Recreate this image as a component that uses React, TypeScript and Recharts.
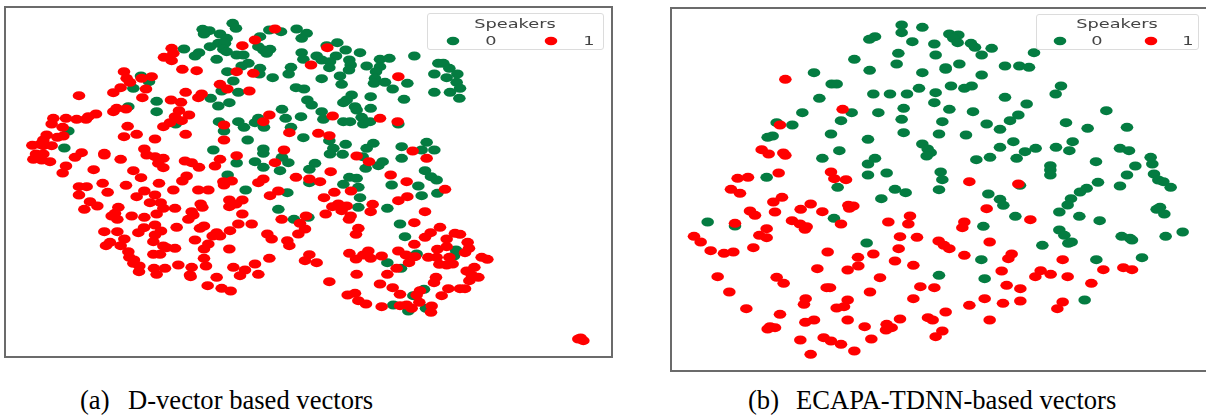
import { ScatterChart, Scatter, XAxis, YAxis, Legend } from "recharts";

// t-SNE positions, in thirds of a pixel
const dVectorSpeaker0: number[][] = [
  [698,70],[708,85],[608,88],[628,92],[612,102],[660,102],[680,115],[655,130],[675,130],[630,140],[670,148],[680,155],[552,147],[597,158],[585,168],[650,178],[710,165],[730,165],[780,110],[808,90],[843,95],[890,87],[775,140],[790,150],[810,148],[800,160],[745,190],[725,198],[682,215],[780,205],[778,222],[818,233],[873,202],[866,222],[700,243],[665,273],[715,277],[888,263],[423,228],[447,245],[400,265],[470,304],[470,335],[385,320],[632,295],[655,318],[688,308],[846,328],[857,355],[657,365],[715,365],[732,382],[765,368],[775,355],[792,382],[672,393],[873,382],[743,420],[527,372],[205,393],[193,444],[640,450],[790,447],[790,460],[846,472],[710,489],[765,485],[790,502],[865,488],[840,512],[683,525],
  [920,100],[905,115],[1012,128],[980,137],[1037,150],[1080,158],[905,158],[950,168],[1008,168],[910,178],[965,180],[990,185],[988,203],[1048,180],[1052,195],[1047,210],[1140,178],[1168,175],[1243,168],[1100,198],[1140,200],[1128,215],[1315,190],[1330,190],[1348,205],[1372,222],[1303,222],[1340,233],[1125,235],[1122,250],[1155,247],[965,236],[1020,228],[1025,253],[1222,250],[1178,267],[1370,247],[1380,265],[1350,277],[1303,277],[1378,295],[912,267],[1212,298],[1112,290],[1055,285],[1040,300],[1030,308],[1065,320],[1070,330],[1112,325],[922,300],[935,315],[965,335],[903,350],[970,358],[1030,365],[1050,365],[1085,352],[1090,372],[1110,365],[1195,372],[910,413],[988,422],[1000,445],[1037,433],[990,462],[1028,463],[1100,445],[1120,430],[1205,440],[1280,427],[1265,450],[1303,450],[1205,475],[1088,470],[1097,505],[1135,497],[1148,485],[945,490],[928,508],[1275,512],[1293,530],[1310,540],[1048,532],[1070,535],[1030,553],[1175,555],[1255,558],[1075,562],[928,548],
  [737,570],[862,578],[835,628],[882,658],
  [1080,593],[1265,587],[1312,580],[1075,622],[1162,625],[925,652],[1200,672],[1215,710],[1368,750],[1362,768],[1250,762],[1162,788],[1203,805],[1272,868],[1240,887],[1180,915],[1225,933],[1278,925],
];

const dVectorSpeaker1: number[][] = [
  [825,87],[765,120],[727,137],[515,145],[520,160],[492,172],[515,182],[547,208],[590,212],[710,215],[760,220],[372,215],[380,235],[390,247],[425,235],[455,230],[438,267],[362,263],[340,278],[237,287],[427,293],[660,253],[682,267],[748,273],[557,277],[605,282],[595,293],[513,300],[543,307],[537,332],[567,345],[525,350],[545,362],[510,368],[490,380],[350,325],[340,335],[378,327],[288,342],[265,350],[258,358],[230,358],[198,355],[160,355],[155,372],[188,382],[140,405],[190,408],[172,412],[130,420],[120,433],[97,436],[155,437],[130,437],[383,379],[372,410],[410,403],[465,417],[557,403],[672,375],[790,365],[808,345],[868,398],[672,420],[108,462],[130,462],[100,478],[125,480],[150,485],[245,458],[225,472],[313,460],[313,465],[362,478],[433,447],[440,465],[465,470],[490,475],[475,490],[490,503],[555,483],[575,488],[597,502],[660,478],[645,498],[710,467],[852,450],[825,488],[198,498],[188,519],[281,509],[400,512],[423,533],[560,528],[670,545],[695,543],[672,555],[790,537],[775,548],[888,532],
  [982,143],[933,195],[1195,230],[998,348],[1140,355],[1193,365],[955,400],[988,407],[1070,468],[1107,485],[1238,453],[1280,475],[992,515],[1172,525],[1220,545],[928,537],[960,545],[1335,568],
  [237,560],[260,560],[308,550],[378,556],[477,550],[547,543],[237,585],[323,577],[520,570],[595,570],[625,570],[433,573],[410,590],[465,585],[450,608],[482,608],[490,625],[525,625],[270,605],[292,618],[253,628],[355,622],[345,640],[335,648],[352,658],[395,648],[433,652],[470,642],[575,635],[580,645],[565,658],[602,612],[607,622],[688,600],[727,600],[688,620],[708,612],[727,642],[810,587],[835,573],[845,658],[900,670],[895,702],[715,672],[755,672],[690,692],[650,698],[660,708],[638,708],[612,678],[600,685],[530,682],[465,675],[432,683],[483,693],[415,698],[465,705],[313,695],[352,695],[373,717],[330,727],[318,737],[362,737],[460,725],[500,743],[525,745],[490,738],[585,720],[625,732],[612,747],[688,747],[802,702],[815,717],[862,722],[868,737],[385,755],[388,772],[402,780],[400,790],[418,798],[417,815],[460,763],[480,763],[535,795],[575,802],[618,798],[612,775],[462,805],[495,805],[470,823],[570,825],[572,830],[700,802],[735,810],[720,827],[765,792],[775,823],[808,775],[650,832],[623,857],[665,865],[692,873],
  [1003,577],[1053,573],[972,593],[1222,590],[1195,602],[1015,612],[997,620],[1040,618],[1025,632],[1118,613],[1112,635],[1275,635],[977,642],[1052,648],[1047,658],[918,648],[1243,668],[1320,682],[915,687],[1075,685],[1068,703],[1292,698],[1275,712],[1365,700],[1380,703],[1340,717],[1403,727],[1243,733],[1407,745],[1395,758],[1340,740],[1312,748],[1195,753],[1218,765],[1048,760],[1105,753],[1090,765],[1068,777],[1112,775],[1145,768],[928,764],[915,782],[950,788],[1245,770],[1285,772],[1310,772],[1348,772],[1227,788],[1318,793],[1340,795],[1358,792],[1445,772],[1462,778],[1423,802],[1400,813],[1415,825],[1435,832],[1408,842],[1308,832],[1302,848],[1070,823],[1162,823],[1190,805],[988,845],[1140,852],[1178,863],[1345,866],[1380,866],[1395,866],[1260,872],[1250,885],[1325,887],[1200,883],[1043,885],[1065,880],[1075,902],[1098,912],[1258,907],[1145,920],[1200,917],[1220,915],[1235,925],[1295,918],[1293,937],[1735,1017],[1750,1022],[1742,1014],
];

const ecapaSpeaker0: number[][] = [
  [2705,75],[2767,82],[2705,98],[2625,110],[2608,118],[2737,125],[2695,160],[2690,192],[2563,178],[2609,211],[2442,218],[2767,218],[2495,252],[2510,252],[2620,282],[2670,282],[2721,282],[2757,265],[2458,295],[2711,325],[2407,338],[2555,338],[2635,338],[2705,358],[2523,362],[2330,368],[2377,375],[2711,398],[2493,402],[2318,408],[2303,412],[2604,418],[2767,432],[2783,447],[2792,458],[2780,468],[2518,452],[2467,475],[2625,475],[2604,492],[2300,532],[2604,525],[2660,519],
  [2848,102],[2875,105],[2860,115],[2873,128],[2803,132],[2913,130],[2925,142],[2975,145],[2945,165],[2807,165],[3102,158],[2878,192],[2837,203],[2837,208],[3015,198],[3058,198],[3087,202],[2945,225],[2853,258],[2893,265],[2915,258],[2807,278],[3183,258],[3167,282],[3015,292],[2803,308],[3080,312],[2848,328],[2919,335],[3319,332],[3055,345],[3030,362],[2827,365],[2960,372],[3198,368],[3263,385],[3381,382],[3000,388],[2817,402],[2898,405],[3218,425],[3040,425],[3000,442],[3107,445],[3168,442],[3208,452],[3075,455],[3360,445],[3387,452],[2970,472],[2929,479],[3050,475],[3452,472],[3457,492],[3288,485],[3151,497],[3151,510],[3151,525],[3406,498],[2822,516],[3381,525],[3462,522],[2827,539],[3475,540],[3490,545],
  [2513,562],[2685,568],[2717,578],[2644,596],[2502,655],[2123,666],[2205,678],[2600,729],
  [3060,556],[2817,569],[2965,582],[3000,598],[3010,616],[3046,649],[2950,679],[3294,547],[3360,558],[3260,565],[3240,576],[3213,596],[3203,615],[3178,636],[3238,649],[3299,662],[3512,562],[3480,622],[3470,628],[3493,642],[3178,690],[3193,706],[3215,726],[3205,730],[3127,736],[3365,709],[3390,715],[3396,720],[3497,709],[3548,696],[2944,779],[3289,779],[3426,773],[2817,826],[2954,836],[3254,900],
];

const ecapaSpeaker1: number[][] = [
  [2356,238],[2528,328],[2340,375],[2285,449],[2306,462],[2350,459],[2356,466],[2336,519],[2244,532],[2213,535],[2493,516],[2503,536],[2538,539],[2908,545],[3055,552],
  [2193,568],[2220,580],[2346,592],[2320,606],[2432,612],[2325,636],[2402,628],[2467,635],[2545,616],[2560,618],[2548,625],[2250,633],[2265,646],[2730,648],[2665,666],[2725,672],[2376,662],[2400,672],[2420,680],[2415,688],[2523,672],[2205,670],[2300,686],[2278,706],[2300,713],[2082,709],[2102,726],[2700,710],[2751,712],[2132,752],[2172,760],[2200,756],[2260,743],[2696,746],[2483,756],[2620,762],[2574,772],[2685,783],[2575,798],[2543,810],[2452,806],[2740,796],[2153,830],[2330,832],[2351,850],[2640,833],[2188,876],[2480,863],[2490,863],[2761,860],[2610,876],[2417,896],[2412,913],[2543,900],[2740,896],[2532,920],[2510,924],[2239,926],[2340,943],[2700,957],[2784,953],[2798,960],[2543,960],[2442,960],[2416,967],[2660,973],[2675,983],[2658,990],[2594,980],[2325,983],[2310,980],[2303,987],[2401,1020],[2471,1013],[2493,1023],[2614,1017],[2523,1033],[2563,1053],[2432,1063],
  [2960,626],[2893,666],[2887,683],[3091,659],[2816,723],[2832,736],[2848,746],[2969,726],[2893,766],[3035,762],[3025,776],[3188,779],[3005,813],[3122,812],[3152,823],[3106,830],[3203,830],[3310,809],[3370,803],[3396,809],[3274,850],[3020,856],[3061,866],[2803,863],[2954,896],[3009,910],[3061,903],[2908,916],[3188,906],[3172,926],[2837,936],[2969,960],[2827,993],[2807,1010],
];

const legendTitle = "Speakers";
const GREEN = "#047c41";
const RED = "#ff0000";

const toPoints = (pairs: number[][]) => pairs.map(([x, y]) => ({ x, y }));

function Dot(props: any) {
  return <ellipse cx={props.cx} cy={props.cy} rx={6.3} ry={4.5} fill={props.fill} />;
}

// the source figure is stretched sideways, the legend text with it
function Stretched({ x, top, children }: any) {
  return (
    <span
      style={{
        position: "absolute",
        left: x,
        top,
        transform: "translateX(-50%) scaleX(1.42)",
        whiteSpace: "pre",
      }}
    >
      {children}
    </span>
  );
}

function SpeakerLegend({ payload, box }: any) {
  return (
    <div
      style={{
        boxSizing: "border-box",
        width: box.width,
        height: box.height,
        border: "1px solid #dcdcdc",
        borderRadius: 3,
        background: "rgba(255,255,255,0.85)",
        fontFamily: "DejaVu Sans",
        fontSize: 12.5,
        color: "#444",
        position: "relative",
      }}
    >
      <Stretched x={box.titleX} top={box.titleTop}>
        {legendTitle}
      </Stretched>
      {(payload ?? []).map((p: any, i: number) => (
        <div key={p.value}>
          <svg
            width={14}
            height={10}
            style={{ position: "absolute", left: box.markX[i] - 7, top: box.markTop }}
          >
            <ellipse cx={7} cy={5} rx={6.3} ry={4.2} fill={p.color} />
          </svg>
          <Stretched x={box.digitX[i]} top={box.digitTop}>
            {p.value}
          </Stretched>
        </div>
      ))}
    </div>
  );
}

function Panel({ left, top, width, height, xDomain, yDomain, speaker0, speaker1, box }: any) {
  return (
    <div
      style={{
        position: "absolute",
        left,
        top,
        width,
        height,
        border: "2px solid #6b6b6b",
        filter: "blur(0.4px)",
      }}
    >
      <ScatterChart width={width} height={height} margin={{ top: 0, right: 0, bottom: 0, left: 0 }}>
        <XAxis type="number" dataKey="x" domain={xDomain} hide />
        <YAxis type="number" dataKey="y" domain={yDomain} reversed hide />
        <Legend
          layout="vertical"
          align="center"
          verticalAlign="middle"
          content={<SpeakerLegend box={box} />}
          wrapperStyle={{ left: box.left, top: box.top, width: box.width }}
        />
        <Scatter name="0" data={toPoints(speaker0)} fill={GREEN} shape={<Dot />} isAnimationActive={false} />
        <Scatter name="1" data={toPoints(speaker1)} fill={RED} shape={<Dot />} isAnimationActive={false} />
      </ScatterChart>
    </div>
  );
}

const captionStyle: any = {
  position: "absolute",
  top: 385,
  fontFamily: "Liberation Serif",
  fontSize: 26.6,
  color: "#000",
  whiteSpace: "pre",
};

const boxA = {
  left: 421, top: 5, width: 177, height: 37,
  titleX: 86.5, titleTop: 1.5, markX: [25, 123], markTop: 22, digitX: [63, 161], digitTop: 18.5,
};
const boxB = {
  left: 364, top: 5, width: 163, height: 36,
  titleX: 80, titleTop: 1, markX: [23, 114], markTop: 21, digitX: [60, 151], digitTop: 17.5,
};

export default function App() {
  return (
    <div style={{ position: "absolute", left: 0, top: 0, width: 1206, height: 420, overflow: "hidden", background: "#fff" }}>
      <Panel
        left={4}
        top={6}
        width={605}
        height={348}
        xDomain={[18, 1833]}
        yDomain={[24, 1068]}
        speaker0={dVectorSpeaker0}
        speaker1={dVectorSpeaker1}
        box={boxA}
      />
      <Panel
        left={670}
        top={7}
        width={540}
        height={361}
        xDomain={[2016, 3636]}
        yDomain={[27, 1110]}
        speaker0={ecapaSpeaker0}
        speaker1={ecapaSpeaker1}
        box={boxB}
      />
      <div style={{ ...captionStyle, left: 80 }}>(a)</div>
      <div style={{ ...captionStyle, left: 128 }}>D-vector based vectors</div>
      <div style={{ ...captionStyle, left: 748 }}>(b)</div>
      <div style={{ ...captionStyle, left: 796 }}>ECAPA-TDNN-based vectors</div>
    </div>
  );
}
